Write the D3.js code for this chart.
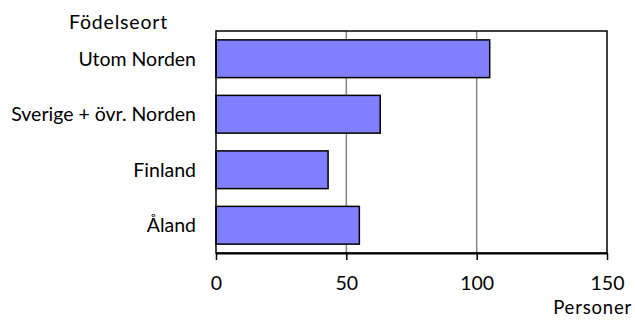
<!DOCTYPE html>
<html><head><meta charset="utf-8">
<script src="https://cdn.jsdelivr.net/npm/d3@7"></script>
<style>html,body{margin:0;padding:0;background:#fff;}svg{display:block;}</style>
</head><body>
<script>
const categories = ["Utom Norden", "Sverige + övr. Norden", "Finland", "Åland"];
const values = [105, 63, 43, 55];
const xTicks = [0, 50, 100, 150];
const yTitle = "Födelseort";
const xTitle = "Personer";

const W = 635, H = 320;
const m = {left: 216, right: 28, top: 31, bottom: 67};
const font = "Lato, 'Open Sans', sans-serif";
const fs = 19.5;

const svg = d3.select("body").append("svg").attr("width", W).attr("height", H);

const x = d3.scaleLinear().domain([0, 150]).range([m.left, W - m.right]);
const y = d3.scaleBand().domain(categories).range([m.top, H - m.bottom]).paddingInner(0.32).paddingOuter(0.16);

// gridlines
svg.append("g").selectAll("line").data(xTicks.filter(t => t > 0 && t < 150)).join("line")
  .attr("x1", d => x(d)).attr("x2", d => x(d))
  .attr("y1", m.top).attr("y2", H - m.bottom)
  .attr("stroke", "#858585").attr("stroke-width", 1.5);

// bars
svg.append("g").selectAll("rect").data(categories).join("rect")
  .attr("x", x(0)).attr("y", d => y(d))
  .attr("width", (d, i) => x(values[i]) - x(0))
  .attr("height", y.bandwidth())
  .attr("fill", "#8080ff").attr("stroke", "#000").attr("stroke-width", 1.5);

// plot border
svg.append("rect").attr("x", m.left).attr("y", m.top)
  .attr("width", W - m.right - m.left).attr("height", H - m.bottom - m.top)
  .attr("fill", "none").attr("stroke", "#000").attr("stroke-width", 1.5);

// x axis
const xAxis = svg.append("g").attr("transform", `translate(0,${H - m.bottom})`)
  .call(d3.axisBottom(x).tickValues(xTicks).tickSize(7).tickPadding(16).tickSizeOuter(0));
xAxis.select(".domain").attr("stroke", "#000").attr("stroke-width", 2);
xAxis.selectAll(".tick line").attr("stroke", "#000").attr("stroke-width", 1.5);
xAxis.selectAll("text").attr("font-family", font).attr("font-size", fs).attr("fill", "#000");

// y labels
svg.append("g").selectAll("text").data(categories).join("text")
  .attr("x", 196).attr("y", d => y(d) + y.bandwidth() / 2)
  .attr("dy", "0.35em").attr("text-anchor", "end")
  .attr("font-family", font).attr("font-size", fs).attr("fill", "#000")
  .text(d => d);

svg.append("text").attr("x", 69).attr("y", 29)
  .attr("font-family", font).attr("font-size", fs).attr("letter-spacing", 0.8).attr("fill", "#000").text(yTitle);

svg.append("text").attr("x", 632).attr("y", 314).attr("text-anchor", "end")
  .attr("font-family", font).attr("font-size", 18.5).attr("letter-spacing", 0.8).attr("fill", "#000").text(xTitle);
</script>
</body></html>
